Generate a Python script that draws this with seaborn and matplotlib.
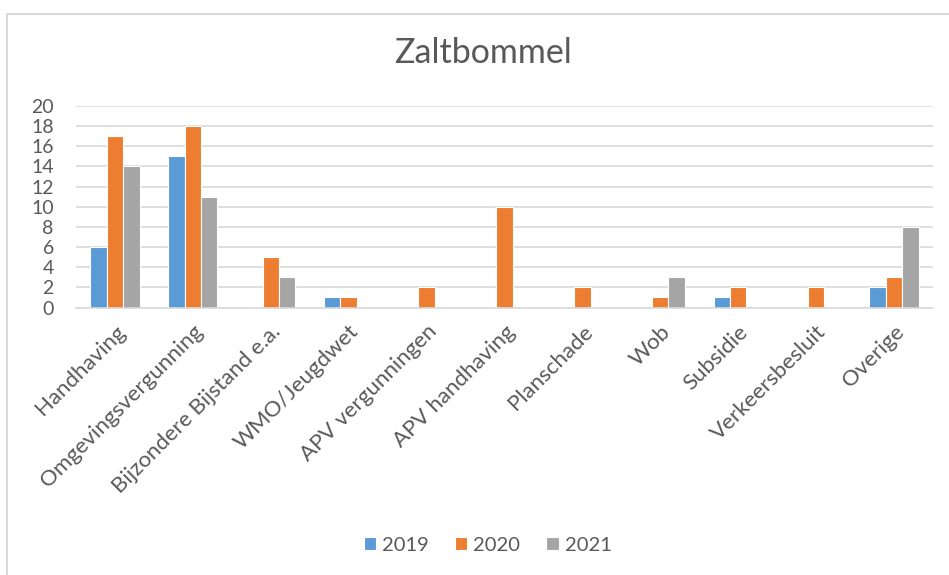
import pandas as pd
import seaborn as sns
import matplotlib.pyplot as plt
from matplotlib.patches import Rectangle

categories = ['Handhaving', 'Omgevingsvergunning', 'Bijzondere Bijstand e.a.', 'WMO/Jeugdwet',
              'APV vergunningen', 'APV handhaving', 'Planschade', 'Wob', 'Subsidie',
              'Verkeersbesluit', 'Overige']
years = ['2019', '2020', '2021']
v2019 = [6, 15, 0, 1, 0, 0, 0, 0, 1, 0, 2]
v2020 = [17, 18, 5, 1, 2, 10, 2, 1, 2, 2, 3]
v2021 = [14, 11, 3, 0, 0, 0, 0, 3, 0, 0, 8]
colours = ['#5b9bd5', '#ed7d31', '#a5a5a5']

rows = []
for year, vals in zip(years, [v2019, v2020, v2021]):
    for cat, v in zip(categories, vals):
        rows.append({'categorie': cat, 'jaar': year, 'aantal': v})
data = pd.DataFrame(rows)

sns.set_style('white')
plt.rcParams['font.family'] = ['Lato', 'DejaVu Sans']
txt = '#595959'

fig = plt.figure(figsize=(9.49, 5.75), dpi=100)
ax = fig.add_axes([0.0801, 0.4652, 0.903, 0.3505])
sns.barplot(data=data, x='categorie', y='aantal', hue='jaar', palette=colours,
            saturation=1, width=0.63, edgecolor='white', linewidth=0.8, ax=ax)

ax.set_ylim(0, 20)
ax.set_yticks(range(0, 21, 2))
ax.yaxis.grid(True, color='#d9d9d9', linewidth=1.2)
ax.set_axisbelow(True)
for s in ['top', 'right', 'left']:
    ax.spines[s].set_visible(False)
ax.spines['bottom'].set_color('#d9d9d9')
ax.spines['bottom'].set_linewidth(1.2)
ax.set_xlabel('')
ax.set_ylabel('')
ax.tick_params(axis='both', length=0, colors=txt)
ax.tick_params(axis='y', pad=16, labelsize=14)
ax.tick_params(axis='x', pad=10, labelsize=16)
plt.setp(ax.get_xticklabels(), rotation=45, ha='right', rotation_mode='anchor')
ax.set_xlim(-0.5, len(categories) - 0.5)

fig.text(0.509, 0.8904, 'Zaltbommel', ha='center', va='baseline', fontsize=24.5, color=txt)

ax.legend(loc='center', bbox_to_anchor=(0.514, 0.052), bbox_transform=fig.transFigure,
          ncol=3, frameon=False, fontsize=14.5, labelcolor=txt, handlelength=0.6,
          handleheight=0.6, columnspacing=1.3, handletextpad=0.3)

# chart border (open at right and bottom, as in the screenshot)
fig.patches.append(Rectangle((0.0074, -0.02), 1.1, 0.9948, transform=fig.transFigure,
                             fill=False, edgecolor='#d9d9d9', linewidth=1.5))

fig.savefig('out.png', dpi=100)
